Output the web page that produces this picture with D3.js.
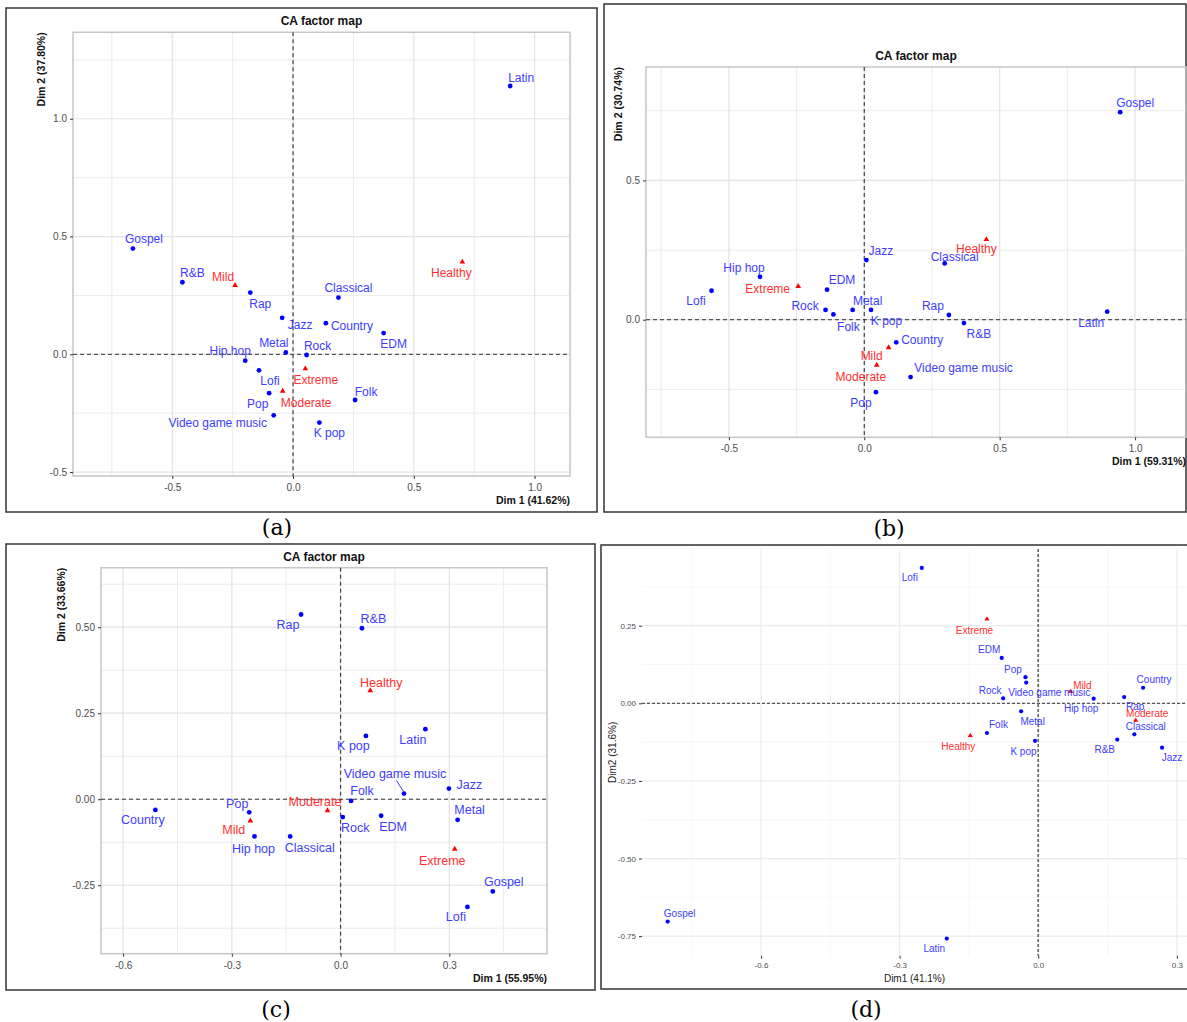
<!DOCTYPE html>
<html>
<head>
<meta charset="utf-8">
<script src="https://cdn.jsdelivr.net/npm/d3@7"></script>
<style>
  body { margin: 0; background: #fff; }
  svg { display: block; font-family: "Liberation Sans", Arial, sans-serif; }
</style>
</head>
<body>
<svg id="fig" width="1187" height="1022"></svg>
<script>
// column categories (genres) and row categories (states)
const genres = ["Latin", "Gospel", "R&B", "Rap", "Classical", "Jazz", "Country", "EDM", "Metal",
  "Rock", "Hip hop", "Lofi", "Pop", "Folk", "Video game music", "K pop"];
const states = ["Healthy", "Mild", "Moderate", "Extreme"];

// (a)
const genreDim1A = [0.899, -0.663, -0.458, -0.177, 0.188, -0.045, 0.136, 0.375, -0.030, 0.056, -0.198, -0.141, -0.099, 0.257, -0.080, 0.109];
const genreDim2A = [1.139, 0.449, 0.306, 0.262, 0.241, 0.155, 0.132, 0.090, 0.008, -0.003, -0.027, -0.068, -0.165, -0.194, -0.259, -0.290];
const stateDim1A = [0.701, -0.240, -0.043, 0.051];
const stateDim2A = [0.392, 0.293, -0.156, -0.061];

// (b)
const genreDim1B = [0.897, 0.945, 0.368, 0.3125, 0.297, 0.008, 0.118, -0.1375, -0.043, -0.143, -0.385, -0.564, 0.043, -0.114, 0.171, 0.025];
const genreDim2B = [0.029, 0.745, -0.012, 0.017, 0.202, 0.214, -0.081, 0.108, 0.035, 0.035, 0.154, 0.104, -0.260, 0.019, -0.206, 0.035];
const stateDim1B = [0.451, 0.090, 0.046, -0.244];
const stateDim2B = [0.288, -0.100, -0.163, 0.120];

// (c)
const genreDim1C = [0.234, 0.420, 0.059, -0.109, -0.139, 0.299, -0.511, 0.112, 0.323, 0.006, -0.2375, 0.350, -0.252, 0.029, 0.175, 0.070];
const genreDim2C = [0.2035, -0.268, 0.497, 0.537, -0.108, 0.031, -0.031, -0.048, -0.060, -0.052, -0.108, -0.313, -0.038, -0.005, 0.0165, 0.184];
const stateDim1C = [0.082, -0.249, -0.036, 0.315];
const stateDim2C = [0.316, -0.063, -0.033, -0.145];

// (d)
const genreDim1D = [-0.198, -0.802, 0.171, 0.186, 0.208, 0.268, 0.227, -0.079, -0.037, -0.076, 0.120, -0.252, -0.0276, -0.111, -0.026, -0.007];
const genreDim2D = [-0.758, -0.703, -0.117, 0.020, -0.100, -0.143, 0.050, 0.146, -0.026, 0.016, 0.015, 0.436, 0.084, -0.0956, 0.0666, -0.121];
const stateDim1D = [-0.147, 0.0705, 0.211, -0.111];
const stateDim2D = [-0.104, 0.0376, -0.055, 0.271];

// tick values
const ticksAB = [-0.5, 0, 0.5, 1];
const yTicksB = [0, 0.5];
const xTicksCD = [-0.6, -0.3, 0, 0.3];
const yTicksC = [-0.25, 0, 0.25, 0.5];
const yTicksD = [-0.75, -0.5, -0.25, 0, 0.25];

// label nudges in px [dx, dy] (text centre / baseline relative to the point)
const nudgeA = {
  "Latin": [11, -4.5], "Gospel": [11, -5.5], "R&B": [10, -5], "Rap": [10, 15], "Classical": [10, -5.5],
  "Jazz": [18, 11], "Country": [26, 7], "EDM": [10, 14.5], "Metal": [-12, -5.5], "Rock": [11, -5],
  "Hip hop": [-15, -5.5], "Lofi": [11, 14.5], "Pop": [-11.5, 14.5], "Folk": [11, -4.5],
  "Video game music": [-56, 11.5], "K pop": [10, 14.5],
  "Healthy": [-11, 15], "Mild": [-12, -4], "Moderate": [23.5, 15.5], "Extreme": [10.5, 15]
};
const nudgeB = {
  "Latin": [-16, 15], "Gospel": [15, -5.5], "R&B": [15, 15], "Rap": [-16, -5], "Classical": [10, -2.5],
  "Jazz": [14.5, -5], "Country": [26, 2], "EDM": [15, -6], "Metal": [15, -5], "Rock": [-20.5, 0.5],
  "Hip hop": [-16, -5], "Lofi": [-15.5, 14.5], "Pop": [-15, 15], "Folk": [15, 16.5],
  "Video game music": [53, -5], "K pop": [15.5, 15],
  "Healthy": [-10, 14], "Mild": [-17, 12.5], "Moderate": [-16, 16], "Extreme": [-30.5, 6.5]
};
const nudgeC = {
  "Latin": [-12.5, 14.5], "Gospel": [11, -5.5], "R&B": [11.5, -5], "Rap": [-13, 14.5], "Classical": [19.5, 15.5],
  "Jazz": [20.5, 0.5], "Country": [-12.5, 14.5], "EDM": [12, 15], "Metal": [12, -5.5], "Rock": [12.5, 15],
  "Hip hop": [-1, 16.5], "Lofi": [-11.5, 14.5], "Pop": [-12, -4.5], "Folk": [11, -6],
  "Video game music": [-9, -16], "K pop": [-12.5, 14.5],
  "Healthy": [11, -4], "Mild": [-16.5, 13.5], "Moderate": [-12.5, -5], "Extreme": [-12.5, 15.5]
};
const nudgeD = {
  "Latin": [-12.5, 13], "Gospel": [12, -4.5], "R&B": [-12.5, 13.5], "Rap": [11, 13], "Classical": [11.5, -4.5],
  "Jazz": [10, 13], "Country": [11, -4.5], "EDM": [-12.5, -4.5], "Metal": [11.5, 13.5], "Rock": [-13, -4.5],
  "Hip hop": [-12.5, 13.5], "Lofi": [-12, 13], "Pop": [-12.5, -4.5], "Folk": [11.5, -4.5],
  "Video game music": [23, 13.5], "K pop": [-11.5, 14],
  "Healthy": [-12, 14.5], "Mild": [11.5, -3], "Moderate": [11.5, -3.5], "Extreme": [-12.5, 14.5]
};

const svg = d3.select("#fig");
svg.append("rect").attr("width", 1187).attr("height", 1022).attr("fill", "#fff");

function drawPanel(p) {
  const g = svg.append("g");
  const [fx0, fy0, fx1, fy1] = p.frame;
  const [px0, py0, px1, py1] = p.plot;

  g.append("rect")
    .attr("x", fx0).attr("y", fy0)
    .attr("width", fx1 - fx0).attr("height", fy1 - fy0)
    .attr("fill", "none").attr("stroke", "#333").attr("stroke-width", 1.5);

  const x = d3.scaleLinear().domain(p.xDomain).range([px0, px1]);
  const y = d3.scaleLinear().domain(p.yDomain).range([py1, py0]);

  // grille
  const minorCol = p.minimal ? "#f4f4f4" : "#ececec";
  const majorCol = p.minimal ? "#ebebeb" : "#e3e3e3";
  g.selectAll(null).data(p.xMinor).join("line")
    .attr("x1", d => x(d)).attr("x2", d => x(d)).attr("y1", py0).attr("y2", py1)
    .attr("stroke", minorCol).attr("stroke-width", p.minimal ? 0.8 : 1);
  g.selectAll(null).data(p.yMinor).join("line")
    .attr("y1", d => y(d)).attr("y2", d => y(d)).attr("x1", px0).attr("x2", px1)
    .attr("stroke", minorCol).attr("stroke-width", p.minimal ? 0.8 : 1);
  g.selectAll(null).data(p.xTicks).join("line")
    .attr("x1", d => x(d)).attr("x2", d => x(d)).attr("y1", py0).attr("y2", py1)
    .attr("stroke", majorCol).attr("stroke-width", 1.2);
  g.selectAll(null).data(p.yTicks).join("line")
    .attr("y1", d => y(d)).attr("y2", d => y(d)).attr("x1", px0).attr("x2", px1)
    .attr("stroke", majorCol).attr("stroke-width", 1.2);

  if (!p.minimal) {
    g.append("rect")
      .attr("x", px0).attr("y", py0).attr("width", px1 - px0).attr("height", py1 - py0)
      .attr("fill", "none").attr("stroke", "#c6c6c6").attr("stroke-width", 1.5);
  }

  // axes
  const tickFont = p.minimal ? 8 : 10;
  const yAxis = g.append("g").attr("transform", `translate(${px0},0)`)
    .call(d3.axisLeft(y).tickValues(p.yTicks).tickSize(3).tickPadding(3)
      .tickFormat(d => d.toFixed(p.yDigits)));
  const xAxis = g.append("g").attr("transform", `translate(0,${py1})`)
    .call(d3.axisBottom(x).tickValues(p.xTicks).tickSize(3).tickPadding(p.minimal ? 4 : 5)
      .tickFormat(d => d.toFixed(p.xDigits)));
  [yAxis, xAxis].forEach(a => {
    a.select(".domain").remove();
    a.selectAll(".tick line").attr("stroke", "#333");
    a.selectAll(".tick text").attr("fill", "#4d4d4d")
      .attr("font-size", tickFont).attr("font-family", "Liberation Sans, Arial, sans-serif");
  });

  // lignes zero en pointillés
  g.append("line")
    .attr("x1", x(0)).attr("x2", x(0)).attr("y1", py0).attr("y2", py1)
    .attr("stroke", p.minimal ? "#666" : "#444").attr("stroke-width", p.minimal ? 1.6 : 1.2)
    .attr("stroke-dasharray", p.minimal ? "3,2" : "4,3");
  g.append("line")
    .attr("x1", px0).attr("x2", px1).attr("y1", y(0)).attr("y2", y(0))
    .attr("stroke", "#333").attr("stroke-width", 1)
    .attr("stroke-dasharray", p.minimal ? "3,2" : "4,3");

  // titres
  if (p.title) {
    g.append("text").attr("x", (px0 + px1) / 2).attr("y", p.titleY)
      .attr("text-anchor", "middle").attr("font-size", 12).attr("font-weight", "bold")
      .attr("fill", "#111").text(p.title);
  }
  if (p.minimal) {
    g.append("text").attr("x", (px0 + px1) / 2).attr("y", py1 + 26)
      .attr("text-anchor", "middle").attr("font-size", 10).attr("fill", "#222").text(p.xTitle);
    g.append("text")
      .attr("transform", `translate(${p.yTitleX},${(py0 + py1) / 2}) rotate(-90)`)
      .attr("text-anchor", "middle").attr("dy", "0.35em").attr("font-size", 10)
      .attr("fill", "#222").text(p.yTitle);
  } else {
    g.append("text").attr("x", px1).attr("y", py1 + 28)
      .attr("text-anchor", "end").attr("font-size", 10.5).attr("font-weight", "bold")
      .attr("fill", "#111").text(p.xTitle);
    g.append("text")
      .attr("transform", `translate(${p.yTitleX},${py0}) rotate(-90)`)
      .attr("text-anchor", "end").attr("dy", "0.35em").attr("font-size", 10.5)
      .attr("font-weight", "bold").attr("fill", "#111").text(p.yTitle);
  }

  const cols = genres.map((name, i) => ({ name, d1: p.genreDim1[i], d2: p.genreDim2[i] }));
  const rows = states.map((name, i) => ({ name, d1: p.stateDim1[i], d2: p.stateDim2[i] }));
  const labelSize = p.labelSize;

  // leader lines (ggrepel)
  (p.leaders || []).forEach(name => {
    const c = cols.find(d => d.name === name);
    const [dx, dy] = p.nudge[name];
    g.append("line")
      .attr("x1", x(c.d1) + dx + 1.5).attr("y1", y(c.d2) + dy + 3)
      .attr("x2", x(c.d1) - 0.5).attr("y2", y(c.d2) - 2)
      .attr("stroke", "#3d3dff").attr("stroke-width", 1);
  });

  g.selectAll(null).data(cols).join("circle")
    .attr("cx", d => x(d.d1)).attr("cy", d => y(d.d2))
    .attr("r", p.minimal ? 2.1 : 2.4).attr("fill", "#0000ff");
  g.selectAll(null).data(rows).join("path")
    .attr("d", d3.symbol(d3.symbolTriangle, p.minimal ? 11 : 14))
    .attr("transform", d => `translate(${x(d.d1)},${y(d.d2)})`)
    .attr("fill", "#ff0000");

  g.selectAll(null).data(cols).join("text")
    .attr("x", d => x(d.d1) + p.nudge[d.name][0])
    .attr("y", d => y(d.d2) + p.nudge[d.name][1])
    .attr("text-anchor", "middle").attr("font-size", labelSize)
    .attr("fill", "#3d3dff").text(d => d.name);
  g.selectAll(null).data(rows).join("text")
    .attr("x", d => x(d.d1) + p.nudge[d.name][0])
    .attr("y", d => y(d.d2) + p.nudge[d.name][1])
    .attr("text-anchor", "middle").attr("font-size", labelSize)
    .attr("fill", "#ff3030").text(d => d.name);

  svg.append("text").attr("x", p.caption[1]).attr("y", p.caption[2])
    .attr("text-anchor", "middle").attr("font-family", "DejaVu Serif, serif")
    .attr("font-size", 22).attr("fill", "#000").text(p.caption[0]);
}

drawPanel({
  frame: [6, 8, 597, 512], plot: [73, 32.3, 570, 476],
  xDomain: [-0.911, 1.1466], yDomain: [-0.5166, 1.367],
  xTicks: ticksAB, yTicks: ticksAB,
  xMinor: [-0.75, -0.25, 0.25, 0.75], yMinor: [-0.25, 0.25, 0.75, 1.25],
  xDigits: 1, yDigits: 1,
  title: "CA factor map", titleY: 25,
  xTitle: "Dim 1 (41.62%)", yTitle: "Dim 2 (37.80%)", yTitleX: 41.5,
  genreDim1: genreDim1A, genreDim2: genreDim2A, stateDim1: stateDim1A, stateDim2: stateDim2A,
  nudge: nudgeA, labelSize: 12, caption: ["(a)", 277, 535]
});

drawPanel({
  frame: [604, 4, 1186, 512], plot: [646, 67, 1186, 437.3],
  xDomain: [-0.806, 1.188], yDomain: [-0.422, 0.907],
  xTicks: ticksAB, yTicks: yTicksB,
  xMinor: [-0.75, -0.25, 0.25, 0.75], yMinor: [-0.25, 0.25, 0.75],
  xDigits: 1, yDigits: 1,
  title: "CA factor map", titleY: 59.5,
  xTitle: "Dim 1 (59.31%)", yTitle: "Dim 2 (30.74%)", yTitleX: 618,
  genreDim1: genreDim1B, genreDim2: genreDim2B, stateDim1: stateDim1B, stateDim2: stateDim2B,
  nudge: nudgeB, labelSize: 12, caption: ["(b)", 889, 536]
});

drawPanel({
  frame: [6, 544, 595, 990], plot: [101, 567.7, 547, 953.7],
  xDomain: [-0.661, 0.5696], yDomain: [-0.449, 0.673],
  xTicks: xTicksCD, yTicks: yTicksC,
  xMinor: [-0.45, -0.15, 0.15, 0.45], yMinor: [-0.375, -0.125, 0.125, 0.375, 0.625],
  xDigits: 1, yDigits: 2,
  title: "CA factor map", titleY: 560.5,
  xTitle: "Dim 1 (55.95%)", yTitle: "Dim 2 (33.66%)", yTitleX: 61.5,
  genreDim1: genreDim1C, genreDim2: genreDim2C, stateDim1: stateDim1C, stateDim2: stateDim2C,
  nudge: nudgeC, labelSize: 12.5, leaders: ["Video game music"], caption: ["(c)", 276, 1017]
});

drawPanel({
  minimal: true,
  frame: [601, 545, 1190, 989], plot: [642, 549, 1187, 955.7],
  xDomain: [-0.8576, 0.322], yDomain: [-0.813, 0.497],
  xTicks: xTicksCD, yTicks: yTicksD,
  xMinor: [-0.75, -0.45, -0.15, 0.15], yMinor: [-0.625, -0.375, -0.125, 0.125, 0.375],
  xDigits: 1, yDigits: 2,
  xTitle: "Dim1 (41.1%)", yTitle: "Dim2 (31.6%)", yTitleX: 612,
  genreDim1: genreDim1D, genreDim2: genreDim2D, stateDim1: stateDim1D, stateDim2: stateDim2D,
  nudge: nudgeD, labelSize: 10, caption: ["(d)", 866, 1017]
});
</script>
</body>
</html>
